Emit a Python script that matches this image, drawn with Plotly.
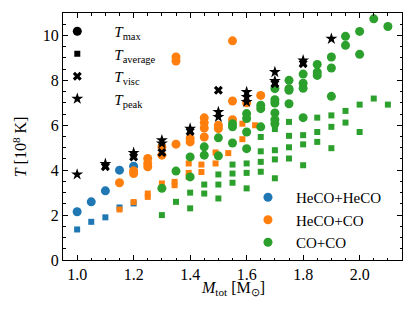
import plotly.graph_objects as go

# HeCO+HeCO
heco_heco_mass = [1.0, 1.05, 1.1, 1.15, 1.2]
heco_heco_tmax = [2.15, 2.59, 3.08, 4.0, 4.18]
heco_heco_tavg = [1.36, 1.70, 1.90, 2.34, 2.52]

# HeCO+CO
heco_co_mass_max = [1.15, 1.2, 1.2, 1.25, 1.25, 1.25, 1.3, 1.3, 1.35, 1.35, 1.35, 1.4, 1.4,
                    1.45, 1.45, 1.45, 1.45, 1.5, 1.5, 1.55, 1.55, 1.55, 1.6, 1.65]
heco_co_tmax = [3.44, 3.97, 3.85, 4.52, 4.30, 4.15, 5.04, 4.67, 9.04, 8.86, 5.16, 5.41, 5.26,
                6.33, 6.12, 5.88, 5.48, 6.0, 5.85, 9.76, 7.08, 6.25, 7.0, 7.33]
heco_co_mass_avg = [1.15, 1.2, 1.25, 1.25, 1.3, 1.345, 1.345, 1.395, 1.395, 1.395, 1.44, 1.44,
                    1.49, 1.49, 1.535, 1.585, 1.585, 1.63]
heco_co_tavg = [2.25, 2.58, 2.96, 2.81, 3.41, 3.48, 3.33, 4.30, 3.88, 3.70, 4.25, 3.92,
                4.79, 4.30, 4.76, 6.07, 5.38, 6.0]

# CO+CO
co_co_mass_max = [1.3, 1.35, 1.4, 1.4, 1.45, 1.45, 1.5, 1.5, 1.55, 1.55, 1.55,
                  1.6, 1.6, 1.6, 1.6, 1.65, 1.65, 1.65,
                  1.7, 1.7, 1.7, 1.7, 1.7, 1.7, 1.75, 1.75, 1.75, 1.75,
                  1.8, 1.8, 1.8, 1.8, 1.85, 1.85, 1.85, 1.9, 1.9, 1.9,
                  1.95, 1.95, 2.0, 2.0, 2.05, 2.1]
co_co_tmax = [3.19, 3.96, 4.59, 3.70, 5.04, 4.67, 5.44, 4.64, 6.07, 5.93, 5.21,
              6.52, 6.30, 5.70, 4.96, 6.89, 6.74, 5.93,
              7.63, 7.14, 6.99, 6.55, 6.25, 6.07, 8.0, 7.63, 7.56, 6.96,
              8.28, 7.87, 7.65, 6.34, 8.71, 8.37, 8.22, 9.04, 8.55, 7.29,
              9.96, 9.56, 10.18, 9.16, 10.74, 10.4]
co_co_mass_avg = [1.3, 1.35, 1.4, 1.4, 1.45, 1.45, 1.5, 1.5, 1.5, 1.55, 1.55, 1.55,
                  1.6, 1.6, 1.6, 1.65, 1.65, 1.65, 1.65, 1.7, 1.7, 1.7, 1.7,
                  1.75, 1.75, 1.75, 1.75, 1.8, 1.8, 1.8, 1.85, 1.85, 1.85,
                  1.9, 1.9, 1.9, 1.95, 1.95, 2.0, 2.0, 2.05, 2.1]
co_co_tavg = [2.0, 2.59, 3.0, 2.30, 3.36, 2.96, 3.81, 3.36, 2.74, 4.25, 3.85, 3.44,
              4.30, 3.88, 3.19, 5.48, 4.84, 4.37, 3.93, 5.83, 4.89, 4.48, 3.64,
              6.15, 5.53, 5.02, 4.52, 5.56, 5.15, 4.22, 6.34, 5.70, 5.26,
              6.44, 5.93, 4.98, 6.64, 6.12, 6.92, 5.70, 7.19, 6.92]

# Black markers
tpeak_mass = [1.0, 1.1, 1.2, 1.3, 1.3, 1.4, 1.5, 1.5, 1.6, 1.6, 1.6, 1.7, 1.7, 1.8, 1.9]
tpeak = [3.81, 4.28, 4.77, 5.33, 5.19, 5.85, 6.59, 6.37, 7.48, 7.26, 7.04, 8.37, 7.97, 8.89, 9.85]
tvisc_mass = [1.1, 1.2, 1.3, 1.4, 1.5, 1.7, 1.8]
tvisc = [4.15, 4.59, 4.79, 5.72, 7.56, 7.85, 8.74]

blue, orange, green = '#1f77b4', '#ff7f0e', '#2ca02c'
font = 'Liberation Serif'
circ, sq, star, cross = 9, 6, 9, 8

fig = go.Figure()

# coloured data
fig.add_trace(go.Scatter(x=heco_heco_mass, y=heco_heco_tavg, mode='markers',
                         marker=dict(symbol='square', size=sq, color=blue), showlegend=False))
fig.add_trace(go.Scatter(x=heco_co_mass_avg, y=heco_co_tavg, mode='markers',
                         marker=dict(symbol='square', size=sq, color=orange), showlegend=False))
fig.add_trace(go.Scatter(x=co_co_mass_avg, y=co_co_tavg, mode='markers',
                         marker=dict(symbol='square', size=sq, color=green), showlegend=False))
fig.add_trace(go.Scatter(x=heco_heco_mass, y=heco_heco_tmax, mode='markers', name='HeCO+HeCO',
                         marker=dict(size=circ, color=blue), legend='legend2'))
fig.add_trace(go.Scatter(x=heco_co_mass_max, y=heco_co_tmax, mode='markers', name='HeCO+CO',
                         marker=dict(size=circ, color=orange), legend='legend2'))
fig.add_trace(go.Scatter(x=co_co_mass_max, y=co_co_tmax, mode='markers', name='CO+CO',
                         marker=dict(size=circ, color=green), legend='legend2'))

# black markers
fig.add_trace(go.Scatter(x=tvisc_mass, y=tvisc, mode='markers', showlegend=False,
                         marker=dict(symbol='x', size=cross, color='black', line=dict(width=0))))
fig.add_trace(go.Scatter(x=tpeak_mass, y=tpeak, mode='markers', showlegend=False,
                         marker=dict(symbol='star', size=star, color='black')))

# legend entries for the temperature types
fig.add_trace(go.Scatter(x=[None], y=[None], mode='markers', name='<i>T</i><sub>max</sub>',
                         marker=dict(size=circ, color='black')))
fig.add_trace(go.Scatter(x=[None], y=[None], mode='markers', name='<i>T</i><sub>average</sub>',
                         marker=dict(symbol='square', size=sq, color='black')))
fig.add_trace(go.Scatter(x=[None], y=[None], mode='markers', name='<i>T</i><sub>visc</sub>',
                         marker=dict(symbol='x', size=cross, color='black', line=dict(width=0))))
fig.add_trace(go.Scatter(x=[None], y=[None], mode='markers', name='<i>T</i><sub>peak</sub>',
                         marker=dict(symbol='star', size=star, color='black')))

axis = dict(showline=True, linecolor='black', linewidth=1, mirror='allticks',
            ticks='inside', ticklen=5, tickcolor='black', showgrid=False, zeroline=False,
            tickfont=dict(size=16, color='black'))

# the page body adds an 8 px offset, so the figure is drawn 8 px smaller
fig.update_layout(
    width=407, height=313,
    margin=dict(l=55, r=13, t=5, b=61, autoexpand=False),
    paper_bgcolor='white', plot_bgcolor='white',
    font=dict(family=font, size=16, color='black'),
    xaxis=dict(range=[0.95, 2.15], tickvals=[1.0, 1.2, 1.4, 1.6, 1.8, 2.0],
               ticktext=['1.0', '1.2', '1.4', '1.6', '1.8', '2.0'],
               minor=dict(dtick=0.05, ticks='inside', ticklen=2.5, tickcolor='black'),
               **axis),
    yaxis=dict(range=[0, 11], tickvals=[0, 2, 4, 6, 8, 10],
               minor=dict(dtick=0.5, ticks='inside', ticklen=2.5, tickcolor='black'),
               **axis),
    legend=dict(x=-0.067, y=0.992, xanchor='left', yanchor='top', bgcolor='rgba(0,0,0,0)',
                font=dict(size=15), itemwidth=64, tracegroupgap=0),
    legend2=dict(x=0.522, y=0.162, xanchor='left', yanchor='middle', bgcolor='rgba(0,0,0,0)',
                 font=dict(size=15), itemwidth=46, tracegroupgap=0),
    annotations=[
        dict(text='<i>M</i><sub>tot</sub> [M<sub>⊙</sub>]', xref='paper', yref='paper',
             x=0.5, y=-0.117, xanchor='center', yanchor='middle', showarrow=False,
             font=dict(size=16)),
        dict(text='<i>T</i> [10<sup>8</sup> K]', xref='paper', yref='paper',
             x=-0.127, y=0.46, xanchor='center', yanchor='middle', showarrow=False,
             textangle=-90, font=dict(size=16)),
    ],
)

fig.write_html("out.html")
